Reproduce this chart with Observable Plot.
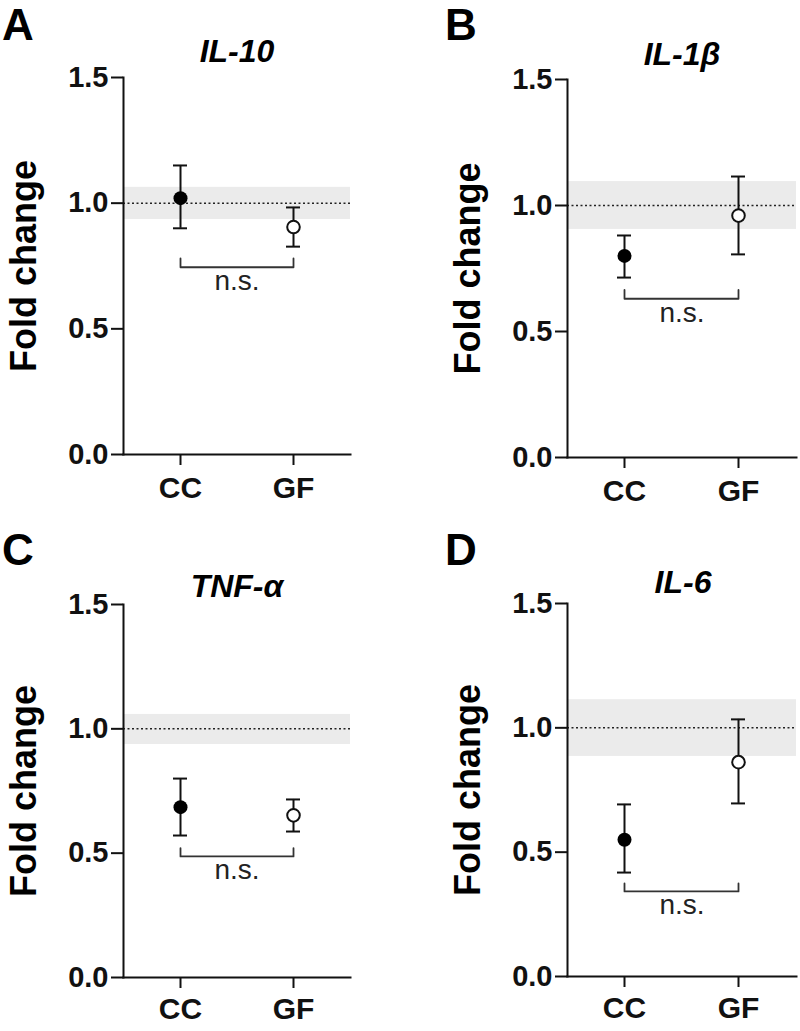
<!DOCTYPE html>
<html>
<head>
<meta charset="utf-8">
<script src="https://cdn.jsdelivr.net/npm/d3@7"></script>
<script src="https://cdn.jsdelivr.net/npm/@observablehq/plot@0.6"></script>
<style>
  html, body { margin: 0; padding: 0; background: #fff; }
  #fig { position: relative; width: 800px; height: 1031px; overflow: hidden; font-family: "Liberation Sans", Arial, sans-serif; color: #111; }
  .panel { position: absolute; }
  .lbl { position: absolute; white-space: nowrap; color: #000; }
</style>
</head>
<body>
<div id="fig"></div>
<script>
// ---- data ----
const genes = ["IL-10", "IL-1β", "TNF-α", "IL-6"];
const panelLetters = ["A", "B", "C", "D"];
const groups = ["CC", "GF"];
const meanCC = [1.02, 0.80, 0.685, 0.55];
const meanGF = [0.905, 0.96, 0.652, 0.862];
const lowCC  = [0.90, 0.714, 0.571, 0.418];
const highCC = [1.15, 0.881, 0.80, 0.692];
const lowGF  = [0.827, 0.806, 0.587, 0.696];
const highGF = [0.983, 1.115, 0.716, 1.034];
const bandLow  = [0.935, 0.905, 0.937, 0.885];
const bandHigh = [1.063, 1.095, 1.058, 1.113];
const bracketY   = [0.745, 0.63, 0.487, 0.342];
const bracketTop = [0.78, 0.665, 0.52, 0.374];
const yTicks = [0, 0.5, 1.0, 1.5];
const yDomain = [0, 1.5];
const sigLabel = "n.s.";
const yLabel = "Fold change";

// ---- layout ----
const layout = [
  {left: 0,   top: 0,   width: 400, height: 500, mL: 123, mR: 50, mT: 77,  mB: 46, tp: 11, title: [237, 63], letter: [2, 40]},
  {left: 400, top: 0,   width: 400, height: 500, mL: 167, mR: 4,  mT: 79,  mB: 43, tp: 11, title: [682, 66], letter: [445, 40]},
  {left: 0,   top: 500, width: 400, height: 531, mL: 123, mR: 50, mT: 104, mB: 54, tp: 9, title: [237, 598], letter: [2, 565]},
  {left: 400, top: 500, width: 400, height: 531, mL: 167, mR: 4,  mT: 103, mB: 55, tp: 9, title: [683, 594], letter: [445, 565]}
];

const fig = document.getElementById("fig");
const FONT = "'Liberation Sans', Arial, sans-serif";

function addLabel(text, x, baseline, fs, opts = {}) {
  const lh = 0.8;
  const d = document.createElement("div");
  d.className = "lbl";
  d.textContent = text;
  d.style.fontSize = fs + "px";
  d.style.lineHeight = (lh * fs) + "px";
  d.style.fontWeight = opts.weight || "bold";
  d.style.fontStyle = opts.style || "normal";
  d.style.top = (baseline - ((lh - 1.117) / 2 + 0.905) * fs) + "px";
  if (opts.center) {
    d.style.left = (x - 150) + "px";
    d.style.width = "300px";
    d.style.textAlign = "center";
  } else {
    d.style.left = x + "px";
  }
  fig.appendChild(d);
}

genes.forEach((gene, i) => {
  const L = layout[i];
  const pts = [
    {group: groups[0], mean: meanCC[i], lo: lowCC[i], hi: highCC[i], filled: true},
    {group: groups[1], mean: meanGF[i], lo: lowGF[i], hi: highGF[i], filled: false}
  ];
  const bracket = [
    {group: groups[0], y: bracketTop[i]},
    {group: groups[0], y: bracketY[i]},
    {group: groups[1], y: bracketY[i]},
    {group: groups[1], y: bracketTop[i]}
  ];

  const chart = Plot.plot({
    width: L.width,
    height: L.height,
    marginLeft: L.mL,
    marginRight: L.mR,
    marginTop: L.mT,
    marginBottom: L.mB,
    style: {fontFamily: FONT, color: "#111", background: "transparent", overflow: "visible"},
    x: {type: "band", domain: groups, paddingInner: 0.876, paddingOuter: 0.442},
    y: {domain: yDomain},
    marks: [
      Plot.rectY([{lo: bandLow[i], hi: bandHigh[i]}], {y1: "lo", y2: "hi", fill: "#ebebeb"}),
      Plot.ruleY([1], {stroke: "#222", strokeWidth: 1.5, strokeDasharray: "2,2.5"}),
      Plot.ruleX(pts, {x: "group", y1: "lo", y2: "hi", stroke: "#111", strokeWidth: 2}),
      Plot.tickY(pts, {x: "group", y: "lo", stroke: "#111", strokeWidth: 2}),
      Plot.tickY(pts, {x: "group", y: "hi", stroke: "#111", strokeWidth: 2}),
      Plot.dot(pts.filter(d => d.filled), {x: "group", y: "mean", r: 7, fill: "#000", stroke: "none"}),
      Plot.dot(pts.filter(d => !d.filled), {x: "group", y: "mean", r: 6.3, fill: "#fff", stroke: "#111", strokeWidth: 2}),
      Plot.line(bracket, {x: "group", y: "y", stroke: "#333", strokeWidth: 1.8}),
      Plot.text([sigLabel], {text: d => d, y: bracketY[i], lineAnchor: "top", dy: 3, fontSize: 28, fill: "#222"}),
      Plot.frame({anchor: "left", stroke: "#111", strokeWidth: 2}),
      Plot.frame({anchor: "bottom", stroke: "#111", strokeWidth: 2}),
      Plot.axisY({ticks: yTicks, tickFormat: ".1f", tickSize: 12, tickPadding: 3, fontSize: 29, fontWeight: "bold", strokeWidth: 2, label: null}),
      Plot.axisX({tickSize: 11, tickPadding: L.tp, fontSize: 30, fontWeight: "bold", strokeWidth: 2, label: null}),
      Plot.text([yLabel], {text: d => d, frameAnchor: "left", textAnchor: "middle", rotate: -90, dx: -99, fontSize: 36, fontWeight: "bold", fill: "#000"})
    ]
  });
  const wrap = document.createElement("div");
  wrap.className = "panel";
  wrap.style.left = L.left + "px";
  wrap.style.top = L.top + "px";
  wrap.appendChild(chart);
  fig.appendChild(wrap);

  addLabel(gene, L.title[0], L.title[1], 32, {center: true, style: "italic"});
  addLabel(panelLetters[i], L.letter[0], L.letter[1], 44);
});
</script>
</body>
</html>
